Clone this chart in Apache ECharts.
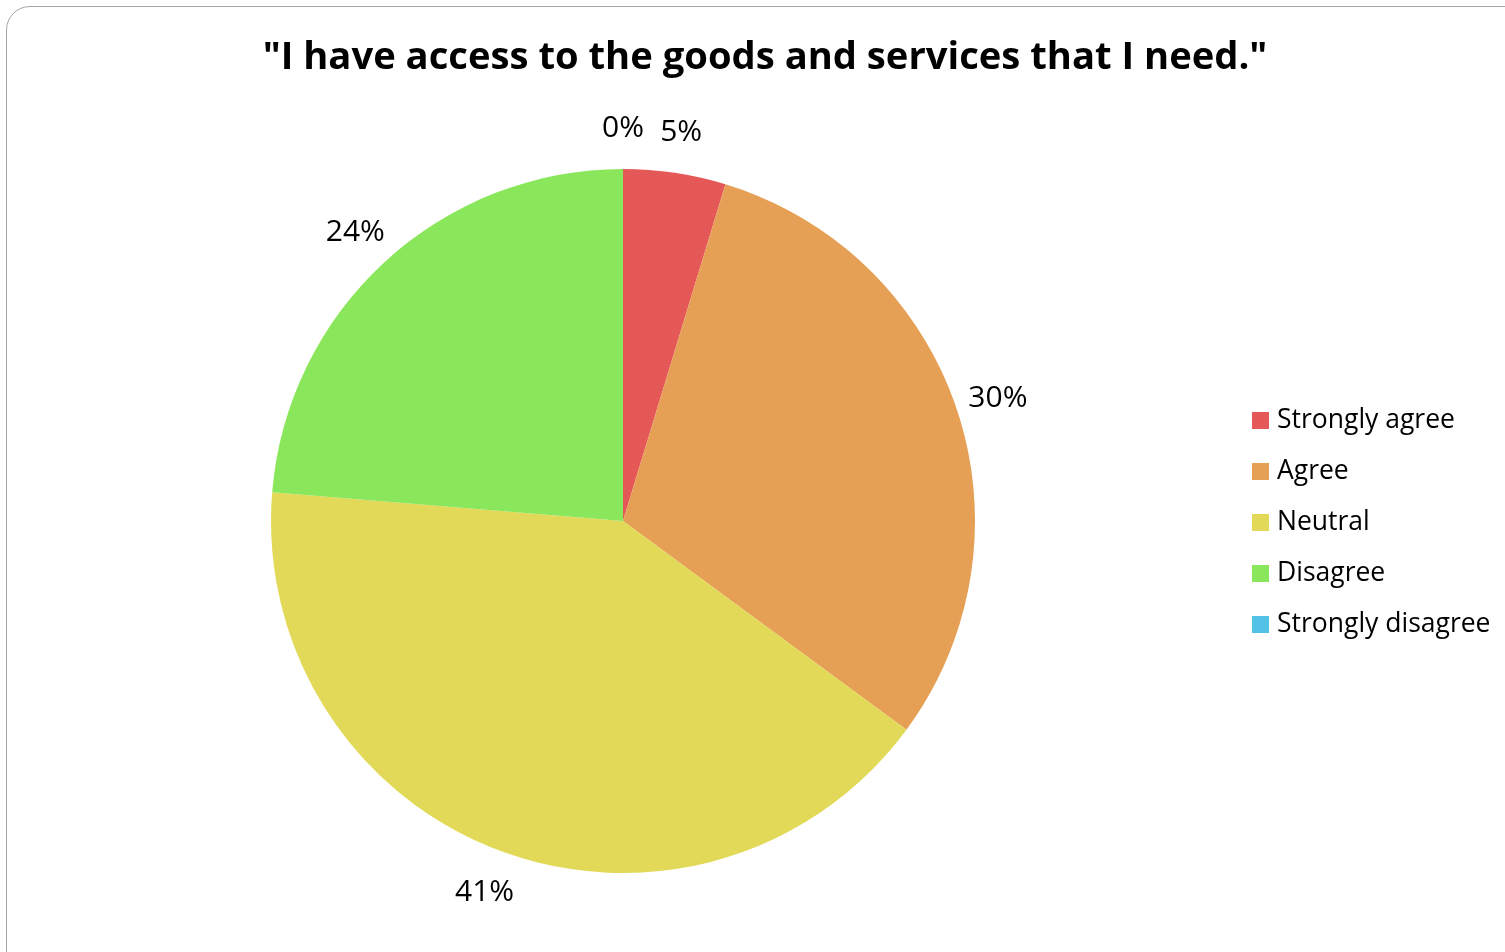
<!DOCTYPE html>
<html>
<head>
<meta charset="utf-8">
<script src="https://cdn.jsdelivr.net/npm/echarts@6/dist/echarts.min.js"></script>
<style>
html,body{margin:0;padding:0;background:#fff;overflow:hidden;}
#frame{position:absolute;left:6px;top:6px;width:1530px;height:970px;border:1.5px solid #a6a6a6;border-radius:24px;box-sizing:border-box;}
#chart{position:absolute;left:0;top:0;width:1505px;height:952px;}
</style>
</head>
<body>
<div id="frame"></div>
<div id="chart"></div>
<script>
const titleText = '"I have access to the goods and services that I need."';
const categories = ['Strongly agree', 'Agree', 'Neutral', 'Disagree', 'Strongly disagree'];
const values = [4.7, 30.4, 41.2, 23.7, 0];
const colors = ['#E55858', '#E5A056', '#E3D958', '#8AE65A', '#52C3E6'];

const data = categories.map((c, i) => ({ name: c, value: values[i] }));
const total = values.reduce((a, b) => a + b, 0);
const fontFam = '"Open Sans", "Noto Sans", sans-serif';

const chart = echarts.init(document.getElementById('chart'), null, { renderer: 'canvas' });
chart.setOption({
  backgroundColor: 'transparent',
  animation: false,
  color: colors,
  title: {
    text: titleText,
    left: 760,
    textAlign: 'center',
    top: 34,
    textStyle: { fontFamily: fontFam, fontWeight: 'bold', fontSize: 38.2, color: '#000' }
  },
  legend: {
    orient: 'vertical',
    left: 1247,
    top: 402,
    icon: 'rect',
    itemWidth: 17,
    itemHeight: 17,
    itemGap: 24,
    data: categories,
    textStyle: { fontFamily: fontFam, fontSize: 26.5, color: '#000', padding: [0, 0, 0, 3] }
  },
  series: [
    {
      type: 'pie',
      center: [623, 521],
      radius: [0, 352],
      startAngle: 90,
      clockwise: true,
      silent: true,
      data: data,
      label: { show: false },
      labelLine: { show: false },
      itemStyle: { borderWidth: 0 }
    },
    {
      type: 'pie',
      center: [623, 523],
      radius: [366, 418],
      startAngle: 90,
      clockwise: true,
      silent: true,
      data: data,
      itemStyle: { color: 'rgba(0,0,0,0)', borderWidth: 0 },
      label: {
        show: true,
        position: 'inside',
        formatter: p => Math.round(p.value / total * 100) + '%',
        fontFamily: fontFam,
        fontSize: 30,
        color: '#000'
      },
      labelLine: { show: false },
      emphasis: { disabled: true }
    }
  ]
});
</script>
</body>
</html>
